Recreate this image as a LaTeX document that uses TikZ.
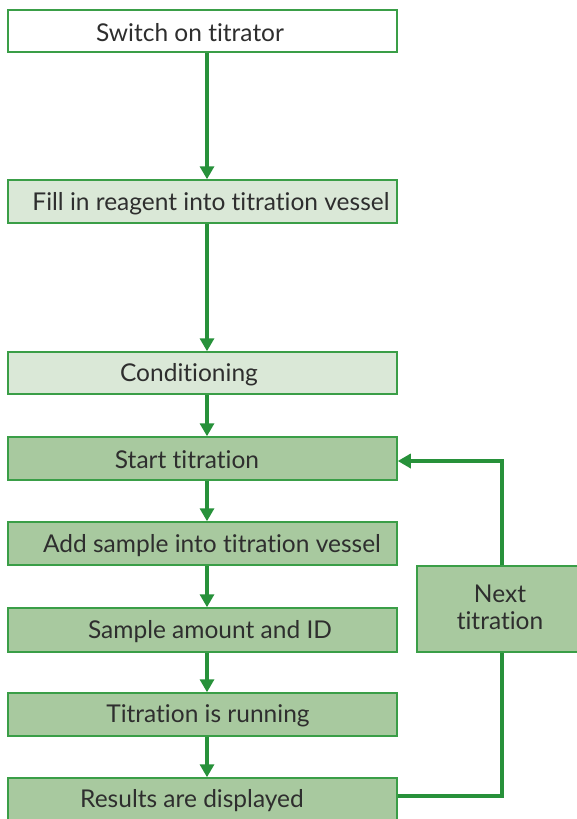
\documentclass[tikz,border=0pt]{standalone}
\usepackage{fontspec}
\setmainfont{Lato}[Ligatures={NoCommon}]
\usetikzlibrary{arrows.meta}
\definecolor{bordergreen}{HTML}{3A9E47}
\definecolor{arrowgreen}{HTML}{27913A}
\definecolor{lightfill}{HTML}{DAE8D7}
\definecolor{midfill}{HTML}{A8C99F}
\definecolor{txtgray}{HTML}{2E2E2E}
\tikzset{
  box/.style={draw=bordergreen, line width=1.5pt, minimum width=389pt, minimum height=43pt, inner sep=0pt},
  txt/.style={text=txtgray, font=\fontsize{24.5}{27}\selectfont, inner sep=0pt},
  arr/.style={draw=arrowgreen, line width=4pt, -{Triangle[width=14pt,length=13pt]}},
  lin/.style={draw=arrowgreen, line width=4pt},
}
\begin{document}
\begin{tikzpicture}[x=1pt,y=-1pt]
\useasboundingbox (0,0) rectangle (577,819);
\clip (0,0) rectangle (577,819);
\node[box, fill=white, minimum height=42pt] (b1) at (202.5,31) {};
\node[box, fill=lightfill] (b2) at (202.5,201.5) {};
\node[box, fill=lightfill, minimum height=42pt] (b3) at (202.5,373) {};
\node[box, fill=midfill] (b4) at (202.5,458.5) {};
\node[box, fill=midfill] (b5) at (202.5,543.5) {};
\node[box, fill=midfill, minimum height=44pt] (b6) at (202.5,630) {};
\node[box, fill=midfill] (b7) at (202.5,714.5) {};
\node[box, fill=midfill] (b8) at (202.5,799.5) {};
\node[box, fill=midfill, minimum width=170pt, minimum height=86pt] (nx) at (502,609) {};

\node[txt] (t1) at (190,33) {Switch on titrator};
\node[txt] (t2) at (211,204) {Fill in reagent into titration vessel};
\node[txt] (t3) at (189,375) {Conditioning};
\node[txt] (t4) at (187,460) {Start titration};
\node[txt] (t5) at (212,546) {Add sample into titration vessel};
\node[txt] (t6) at (210,632) {Sample amount and ID};
\node[txt] (t7) at (208,716) {Titration is running};
\node[txt] (t8) at (192,801) {Results are displayed};
\node[txt, align=center] (t9) at (500,607) {Next\\titration};

\coordinate (ax) at (207,0);
\draw[arr] (b1.south -| ax) -- (b2.north -| ax);
\draw[arr] (b2.south -| ax) -- (b3.north -| ax);
\draw[arr] (b3.south -| ax) -- (b4.north -| ax);
\draw[arr] (b4.south -| ax) -- (b5.north -| ax);
\draw[arr] (b5.south -| ax) -- (b6.north -| ax);
\draw[arr] (b6.south -| ax) -- (b7.north -| ax);
\draw[arr] (b7.south -| ax) -- (b8.north -| ax);

\coordinate (ly) at (0,796);
\coordinate (uy) at (0,461);
\draw[lin] (b8.east |- ly) -| (nx.south);
\draw[arr] (nx.north) |- (b4.east |- uy);
\end{tikzpicture}
\end{document}
